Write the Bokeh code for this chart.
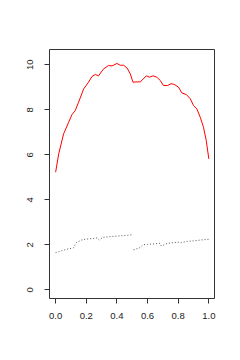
from bokeh.plotting import figure
from bokeh.models import Range1d, FixedTicker
from bokeh.embed import file_html
from bokeh.resources import INLINE

# Red curve
red_x = [0.0, 0.02, 0.052, 0.085, 0.107, 0.128, 0.15, 0.183, 0.215, 0.237, 0.259, 0.28,
         0.313, 0.346, 0.368, 0.4, 0.422, 0.444, 0.466, 0.487, 0.505, 0.531, 0.553,
         0.592, 0.613, 0.635, 0.661, 0.683, 0.704, 0.731, 0.753, 0.774, 0.802, 0.824,
         0.853, 0.879, 0.9, 0.922, 0.944, 0.965, 0.983, 1.0]
red_y = [5.23, 6.04, 6.93, 7.45, 7.79, 7.97, 8.34, 8.93, 9.23, 9.48, 9.57, 9.51,
         9.82, 9.97, 9.95, 10.06, 9.98, 9.98, 9.86, 9.6, 9.23, 9.24, 9.24,
         9.51, 9.45, 9.51, 9.45, 9.3, 9.08, 9.08, 9.16, 9.13, 9.01, 8.75,
         8.68, 8.49, 8.19, 8.04, 7.67, 7.23, 6.64, 5.82]

# Dotted series, first piece
d1_x = [0.0, 0.03, 0.05, 0.08, 0.117, 0.135, 0.17, 0.2, 0.25, 0.27, 0.285, 0.31,
        0.36, 0.42, 0.46, 0.505]
d1_y = [1.66, 1.72, 1.76, 1.82, 1.87, 2.10, 2.22, 2.26, 2.29, 2.31, 2.22, 2.34,
        2.37, 2.40, 2.42, 2.46]
# Dotted series, second piece
d2_x = [0.509, 0.55, 0.57, 0.6, 0.68, 0.69, 0.73, 0.8, 0.82, 0.86, 0.9, 0.95, 1.0]
d2_y = [1.78, 1.88, 2.01, 2.02, 2.07, 1.95, 2.07, 2.12, 2.10, 2.16, 2.18, 2.22, 2.25]

x_ticks = [0.0, 0.2, 0.4, 0.6, 0.8, 1.0]
x_labels = ["0.0", "0.2", "0.4", "0.6", "0.8", "1.0"]
y_ticks = [0, 2, 4, 6, 8, 10]
y_labels = ["0", "2", "4", "6", "8", "10"]

p = figure(width=232, height=352, output_backend="svg", toolbar_location=None,
           x_range=Range1d(-0.04, 1.037), y_range=Range1d(-0.38, 10.68),
           min_border_left=49, min_border_right=18, min_border_top=49, min_border_bottom=54)
p.grid.visible = False
p.background_fill_color = "white"
p.border_fill_color = "white"
p.outline_line_color = "#333333"
p.outline_line_width = 1

p.line(red_x, red_y, line_color="#FF0000", line_width=1)
p.line(d1_x, d1_y, line_color="#555555", line_width=1, line_dash="1 2")
p.line(d2_x, d2_y, line_color="#555555", line_width=1, line_dash="1 2")

p.xaxis.ticker = FixedTicker(ticks=x_ticks)
p.xaxis.major_label_overrides = {t: l for t, l in zip(x_ticks, x_labels)}
p.yaxis.ticker = FixedTicker(ticks=y_ticks)
p.yaxis.major_label_overrides = {t: l for t, l in zip(y_ticks, y_labels)}
p.yaxis.major_label_orientation = "vertical"

for ax in (p.xaxis, p.yaxis):
    ax.axis_line_color = None
    ax.major_tick_out = 5
    ax.major_tick_in = 0
    ax.minor_tick_line_color = None
    ax.major_tick_line_color = "#333333"
    ax.major_label_text_font = "Liberation Sans"
    ax.major_label_text_font_size = "9.5px"
    ax.major_label_text_color = "#222222"
    ax.major_label_standoff = 9
p.yaxis.major_label_standoff = 11

open("out.html", "w").write(file_html(p, INLINE))
